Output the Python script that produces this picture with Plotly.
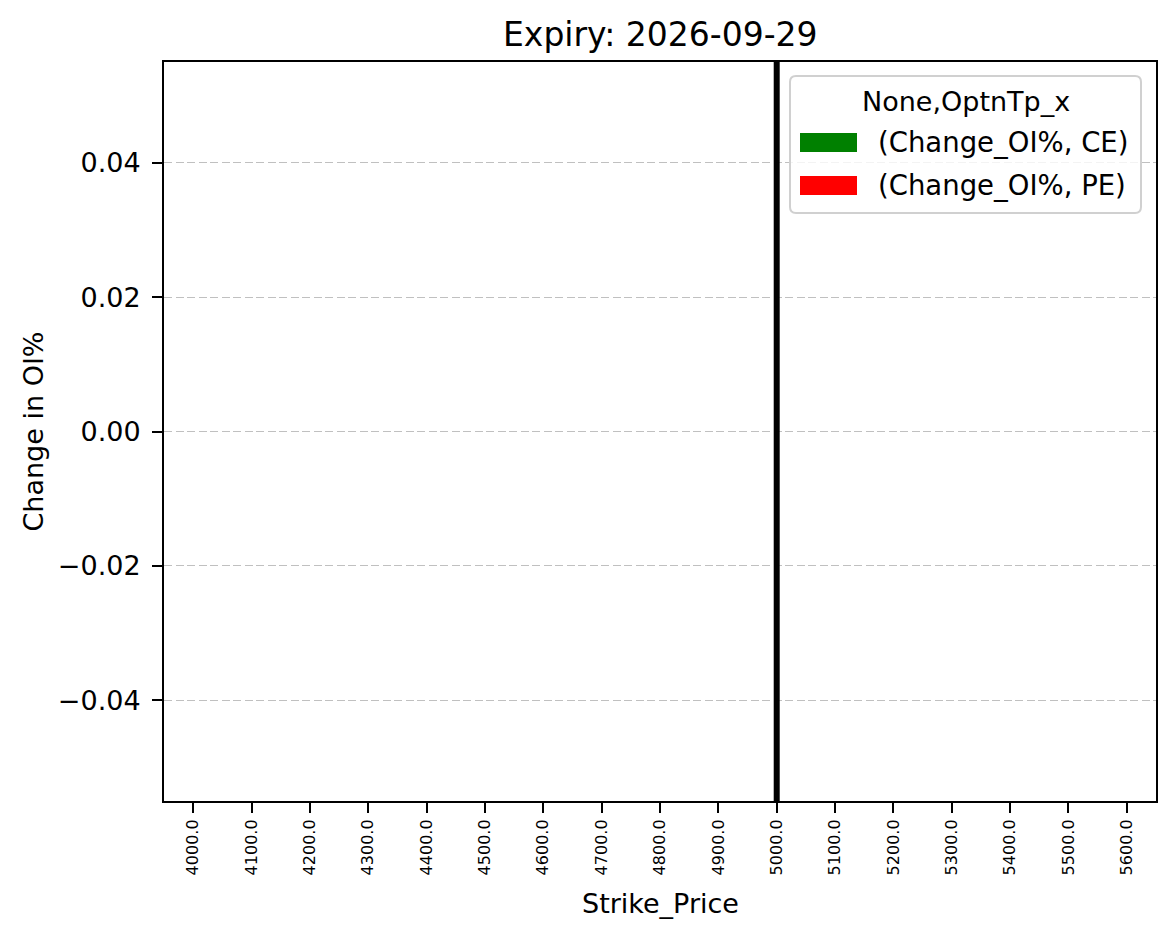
import plotly.graph_objects as go

# ---- data ----
strikes = [4000.0, 4100.0, 4200.0, 4300.0, 4400.0, 4500.0, 4600.0, 4700.0, 4800.0,
           4900.0, 5000.0, 5100.0, 5200.0, 5300.0, 5400.0, 5500.0, 5600.0]
change_oi_ce = [0.0, 0.0, 0.0, 0.0, 0.0, 0.0, 0.0, 0.0, 0.0,
                0.0, 0.0, 0.0, 0.0, 0.0, 0.0, 0.0, 0.0]
change_oi_pe = [0.0, 0.0, 0.0, 0.0, 0.0, 0.0, 0.0, 0.0, 0.0,
                0.0, 0.0, 0.0, 0.0, 0.0, 0.0, 0.0, 0.0]
tick_labels = [f"{s:.1f}" for s in strikes]
spot_strike = 5000.0
series_names = ["(Change_OI%, CE)", "(Change_OI%, PE)"]
series_colors = ["#008000", "#ff0000"]
legend_title = "None,OptnTp_x"
chart_title = "Expiry: 2026-09-29"

W, H = 1175, 939
L, R, T, B = 164, 1156, 62, 801  # plot area in pixels
FONT = "DejaVu Sans"


def px_x(p):
    return (p - L) / (R - L)


def px_y(p):
    return (B - p) / (B - T)


positions = list(range(len(strikes)))

fig = go.Figure()
for vals, name, col in zip([change_oi_ce, change_oi_pe], series_names, series_colors):
    fig.add_trace(go.Bar(x=positions, y=vals, name=name, marker_color=col,
                         marker_line_width=0, showlegend=False))

spot_idx = strikes.index(spot_strike)
fig.add_shape(type="line", xref="x", yref="paper", x0=spot_idx, x1=spot_idx,
              y0=0, y1=1, line=dict(color="black", width=6), layer="above")

# custom legend (matplotlib style)
bx0, bx1, by0, by1 = 790, 1141, 76, 213
r = 6
rx, ry = r / (R - L), r / (B - T)
X0, X1, Y0, Y1 = px_x(bx0), px_x(bx1), px_y(by1), px_y(by0)
path = (f"M {X0+rx},{Y0} L {X1-rx},{Y0} Q {X1},{Y0} {X1},{Y0+ry} "
        f"L {X1},{Y1-ry} Q {X1},{Y1} {X1-rx},{Y1} L {X0+rx},{Y1} "
        f"Q {X0},{Y1} {X0},{Y1-ry} L {X0},{Y0+ry} Q {X0},{Y0} {X0+rx},{Y0} Z")
fig.add_shape(type="path", xref="paper", yref="paper", path=path,
              line=dict(color="#d0d0d0", width=2), fillcolor="rgba(255,255,255,0.8)",
              layer="above")
row_centers = [142.5, 185.5]
for i, (name, col) in enumerate(zip(series_names, series_colors)):
    yc = row_centers[i]
    fig.add_shape(type="rect", xref="paper", yref="paper",
                  x0=px_x(800), x1=px_x(857), y0=px_y(yc + 9.5), y1=px_y(yc - 9.5),
                  fillcolor=col, line=dict(width=0), layer="above")
    fig.add_annotation(xref="paper", yref="paper", x=px_x(876), y=px_y(yc),
                       xanchor="left", yanchor="middle", text=name, showarrow=False,
                       font=dict(family=FONT, size=27.5, color="black"))
fig.add_annotation(xref="paper", yref="paper", x=px_x(965.5), y=px_y(101),
                   xanchor="center", yanchor="middle", text=legend_title, showarrow=False,
                   font=dict(family=FONT, size=27, color="black"))

# titles
fig.add_annotation(xref="paper", yref="paper", x=0.5, y=px_y(35), xanchor="center",
                   yanchor="middle", text=chart_title, showarrow=False,
                   font=dict(family=FONT, size=33, color="black"))
fig.add_annotation(xref="paper", yref="paper", x=0.5, y=px_y(903), xanchor="center",
                   yanchor="middle", text="Strike_Price", showarrow=False,
                   font=dict(family=FONT, size=27, color="black"))
fig.add_annotation(xref="paper", yref="paper", x=px_x(33), y=0.5, xanchor="center",
                   yanchor="middle", text="Change in OI%", showarrow=False, textangle=-90,
                   font=dict(family=FONT, size=27, color="black"))

fig.update_layout(
    width=W, height=H,
    margin=dict(l=L, r=W - R, t=T, b=H - B, pad=0),
    paper_bgcolor="white", plot_bgcolor="white",
    barmode="group", bargap=0.5, bargroupgap=0,
    font=dict(family=FONT, color="black"),
    xaxis=dict(
        range=[-0.5, len(strikes) - 0.5], tickmode="array", tickvals=positions,
        ticktext=tick_labels, tickangle=-90, tickfont=dict(family=FONT, size=16),
        ticks="outside", ticklen=10, tickwidth=2, tickcolor="black",
        showline=True, linecolor="black", linewidth=2, mirror=True,
        showgrid=False, zeroline=False, automargin=False,
    ),
    yaxis=dict(
        range=[-0.055, 0.055], tickmode="array",
        tickvals=[-0.04, -0.02, 0.0, 0.02, 0.04], tickformat=".2f",
        tickfont=dict(family=FONT, size=27), ticklabelstandoff=6,
        ticks="outside", ticklen=10, tickwidth=2, tickcolor="black",
        showline=True, linecolor="black", linewidth=2, mirror=True,
        showgrid=True, gridcolor="#c0c0c0", gridwidth=1.3, griddash="8px,3.5px",
        zeroline=False, automargin=False,
    ),
)

fig.write_html("out.html")
